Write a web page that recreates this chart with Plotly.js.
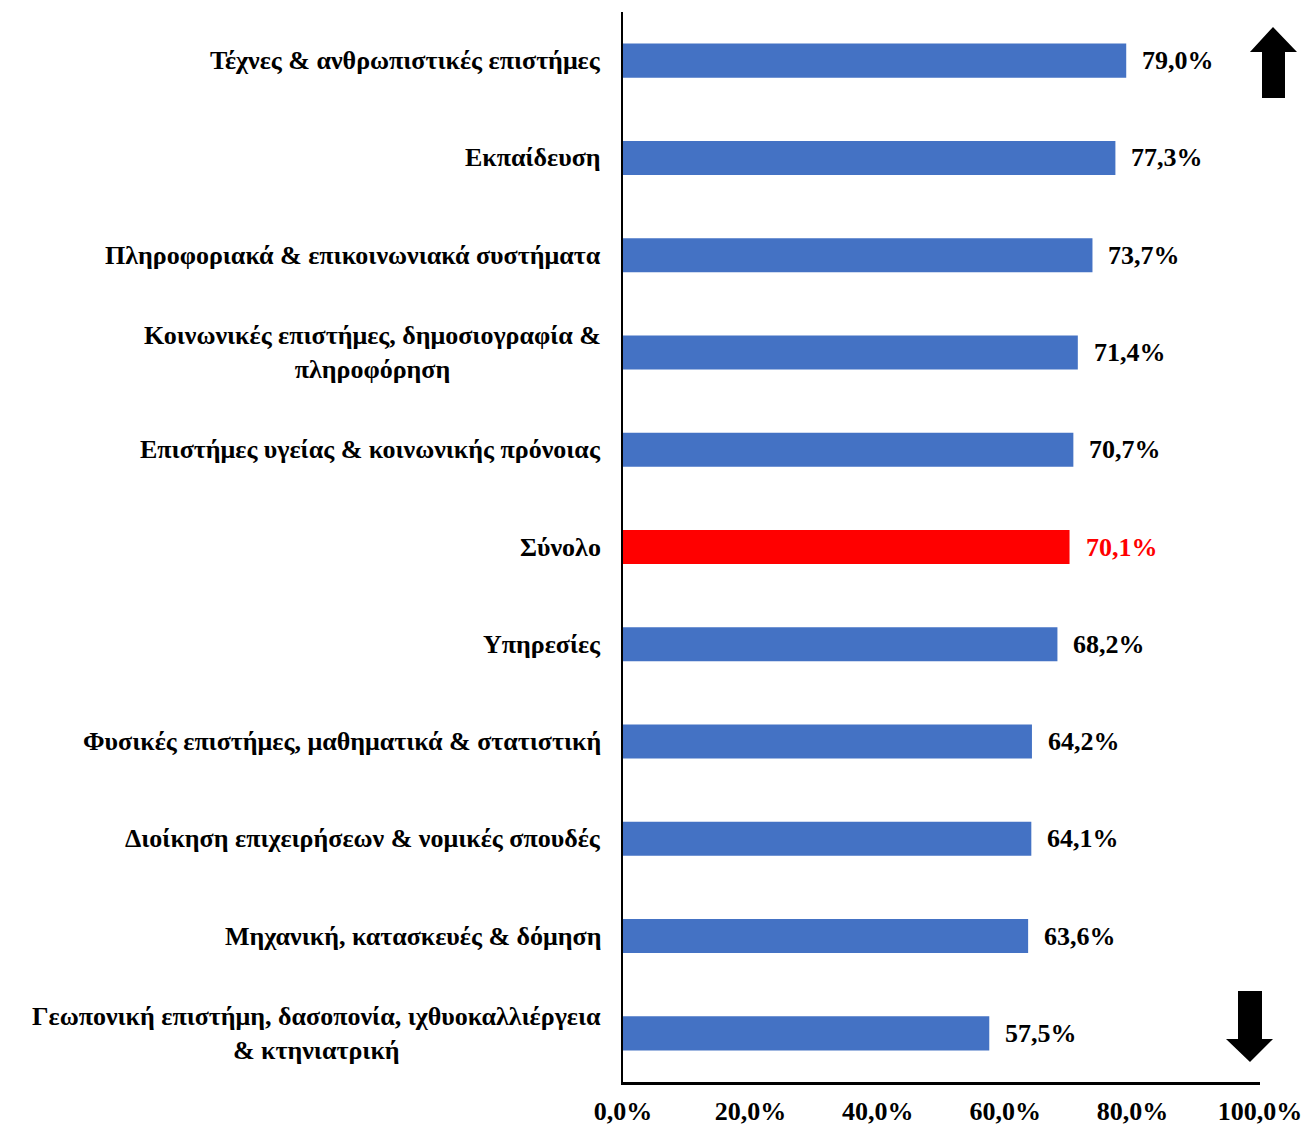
<!DOCTYPE html>
<html><head><meta charset="utf-8">
<script src="https://cdn.plot.ly/plotly-3.0.1.min.js"></script>
<style>body{margin:0;background:#fff}#chart{width:1306px;height:1128px}</style>
</head><body><div id="chart"></div>
<script>
const categories = [
  "Τέχνες & ανθρωπιστικές επιστήμες",
  "Εκπαίδευση",
  "Πληροφοριακά & επικοινωνιακά συστήματα",
  "Κοινωνικές επιστήμες, δημοσιογραφία &<br>πληροφόρηση",
  "Επιστήμες υγείας & κοινωνικής πρόνοιας",
  "Σύνολο",
  "Υπηρεσίες",
  "Φυσικές επιστήμες, μαθηματικά & στατιστική",
  "Διοίκηση επιχειρήσεων & νομικές σπουδές",
  "Μηχανική, κατασκευές & δόμηση",
  "Γεωπονική επιστήμη, δασοπονία, ιχθυοκαλλιέργεια<br>& κτηνιατρική"
];
const values = [0.790, 0.773, 0.737, 0.714, 0.707, 0.701, 0.682, 0.642, 0.641, 0.636, 0.575];
const totalLabel = "Σύνολο";
const xTicks = [0, 0.2, 0.4, 0.6, 0.8, 1.0];

const BLUE = "#4472C4", RED = "#FF0000";
const FONT = "'Liberation Serif', 'Times New Roman', serif";
const FS = 26;
const colors = categories.map(c => c === totalLabel ? RED : BLUE);
const fmt = v => (v * 100).toFixed(1).replace(".", ",") + "%";

const trace = {
  type: "bar", orientation: "h",
  x: values, y: categories,
  marker: {color: colors},
  width: 0.35,
  hoverinfo: "none"
};

// plot area in pixels (for the decorative arrows)
const L = 623, R = 1260, T = 12, B = 1082;
const px = x => (x - L) / (R - L);
const py = y => (B - y) / (B - T);
function pathOf(pts) {
  return "M" + pts.map(p => px(p[0]).toFixed(5) + "," + py(p[1]).toFixed(5)).join(" L") + " Z";
}
const upArrow = pathOf([[1262,98],[1262,52],[1250,52],[1273,27],[1297,52],[1285,52],[1285,98]]);
const downArrow = pathOf([[1238,991],[1262,991],[1262,1039],[1273,1039],[1250,1062],[1226,1039],[1238,1039]]);

const annotations = [];
categories.forEach((c, i) => {
  const isTot = c === totalLabel;
  annotations.push({
    x: 0, xref: "paper", y: c, yref: "y",
    text: c, showarrow: false, xanchor: "right", align: "center",
    xshift: -20,
    font: {family: FONT, size: FS, color: "#000", weight: "bold"}
  });
  annotations.push({
    x: values[i], xref: "x", y: c, yref: "y",
    text: fmt(values[i]), showarrow: false, xanchor: "left",
    xshift: 14,
    font: {family: FONT, size: FS, color: isTot ? RED : "#000", weight: "bold"}
  });
});

const layout = {
  width: 1306, height: 1128,
  margin: {l: L, r: 1306 - R, t: T, b: 1128 - B},
  paper_bgcolor: "#fff", plot_bgcolor: "#fff",
  showlegend: false,
  separators: ",.",
  xaxis: {
    range: [0, 1], tickvals: xTicks, tickformat: ".1%",
    showgrid: false, zeroline: false,
    showline: true, linecolor: "#000", linewidth: 2.5,
    ticks: "", ticklabelstandoff: 4,
    tickfont: {family: FONT, size: FS, color: "#000", weight: "bold"},
    fixedrange: true
  },
  yaxis: {
    type: "category", categoryorder: "array", categoryarray: categories,
    autorange: "reversed",
    showticklabels: false, showgrid: false, zeroline: false,
    showline: true, linecolor: "#000", linewidth: 2.5, ticks: "",
    fixedrange: true
  },
  annotations: annotations,
  shapes: [
    {type: "path", xref: "paper", yref: "paper", path: upArrow, fillcolor: "#000", line: {width: 0}},
    {type: "path", xref: "paper", yref: "paper", path: downArrow, fillcolor: "#000", line: {width: 0}}
  ]
};

Plotly.newPlot("chart", [trace], layout, {displayModeBar: false, staticPlot: true});
</script>
</body></html>
